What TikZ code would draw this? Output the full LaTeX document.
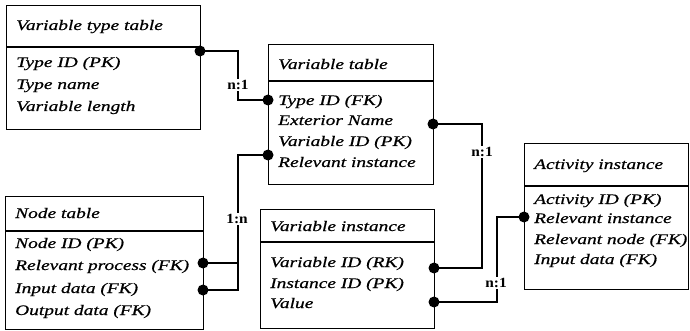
\documentclass[tikz,border=0pt]{standalone}
\usepackage{fontspec}
\setmainfont{Liberation Serif}[FakeStretch=1.33, FakeBold=0.6]
\newfontfamily\cardfont{Liberation Serif}[FakeStretch=1.1]
\begin{document}
\begin{tikzpicture}[x=1pt,y=-1pt,
  tbl/.style={draw, line width=1.1pt, inner sep=0pt, anchor=north west},
  fld/.style={anchor=base west, inner sep=0pt, font=\fontsize{14.6}{16}\selectfont\itshape},
  dot/.style={circle, fill=black, inner sep=0pt, minimum size=11pt},
  link/.style={line width=1.1pt},
  card/.style={fill=white, inner sep=1.5pt, font=\cardfont\fontsize{14}{15}\selectfont\bfseries}]
\useasboundingbox (0,0) rectangle (690,331);

% ---- tables ----
\node[tbl, minimum width=194pt, minimum height=124pt] (vtt) at (6,5) {};
\draw[line width=1.1pt] (vtt.north west) ++(0,42) -- ++(194,0);
\node[fld] (vtt-t) at (16,30) {Variable type table};
\node[fld] (vtt-1) at (16,67) {Type ID (PK)};
\node[fld] (vtt-2) at (16,89) {Type name};
\node[fld] (vtt-3) at (16,111) {Variable length};

\node[tbl, minimum width=165pt, minimum height=140pt] (vt) at (268,44) {};
\draw[line width=1.1pt] (vt.north west) ++(0,37) -- ++(165,0);
\node[fld] (vt-t) at (278,69) {Variable table};
\node[fld] (vt-1) at (278,105) {Type ID (FK)};
\node[fld] (vt-2) at (278,125) {Exterior Name};
\node[fld] (vt-3) at (278,146) {Variable ID (PK)};
\node[fld] (vt-4) at (278,167) {Relevant instance};

\node[tbl, minimum width=198pt, minimum height=133pt] (nt) at (5,196) {};
\draw[line width=1.1pt] (nt.north west) ++(0,35) -- ++(198,0);
\node[fld] (nt-t) at (15,218) {Node table};
\node[fld] (nt-1) at (15,248) {Node ID (PK)};
\node[fld] (nt-2) at (15,270) {Relevant process (FK)};
\node[fld] (nt-3) at (15,293) {Input data (FK)};
\node[fld] (nt-4) at (15,315) {Output data (FK)};

\node[tbl, minimum width=174pt, minimum height=119pt] (vi) at (260,209) {};
\draw[line width=1.1pt] (vi.north west) ++(0,33) -- ++(174,0);
\node[fld] (vi-t) at (270,231) {Variable instance};
\node[fld] (vi-1) at (270,267) {Variable ID (RK)};
\node[fld] (vi-2) at (270,288) {Instance ID (PK)};
\node[fld] (vi-3) at (270,308) {Value};

\node[tbl, minimum width=164pt, minimum height=146pt] (ai) at (524,143) {};
\draw[line width=1.1pt] (ai.north west) ++(0,43) -- ++(164,0);
\node[fld] (ai-t) at (534,169) {Activity instance};
\node[fld] (ai-1) at (534,204) {Activity ID (PK)};
\node[fld] (ai-2) at (534,223) {Relevant instance};
\node[fld] (ai-3) at (534,244) {Relevant node (FK)};
\node[fld] (ai-4) at (534,264) {Input data (FK)};

% ---- connection points ----
\node[dot] (d1) at (200,51) {};
\node[dot] (d2) at (268,100) {};
\node[dot] (d3) at (433,124) {};
\node[dot] (d4) at (434,268) {};
\node[dot] (d5) at (268,155) {};
\node[dot] (d6) at (203,263) {};
\node[dot] (d7) at (203,290) {};
\node[dot] (d8) at (524,217) {};
\node[dot] (d9) at (434,302) {};
\coordinate (j3) at (238,155);

% ---- relationships ----
\draw[link] (d1.center) -- ++(38,0) |- (d2.center);
\node[card] (c1) at (238,85) {n:1};

\draw[link] (d3.center) -- ++(49,0) |- (d4.center);
\node[card] (c2) at (482,152) {n:1};

\draw[link] (d5.center) -- (j3) |- (d7.center);
\draw[link] (d6.center) -- (d6.center -| j3);
\node[card] (c3) at (237,219) {1:n};

\draw[link] (d8.center) -- ++(-27,0) |- (d9.center);
\node[card] (c4) at (496,283) {n:1};
\end{tikzpicture}
\end{document}
